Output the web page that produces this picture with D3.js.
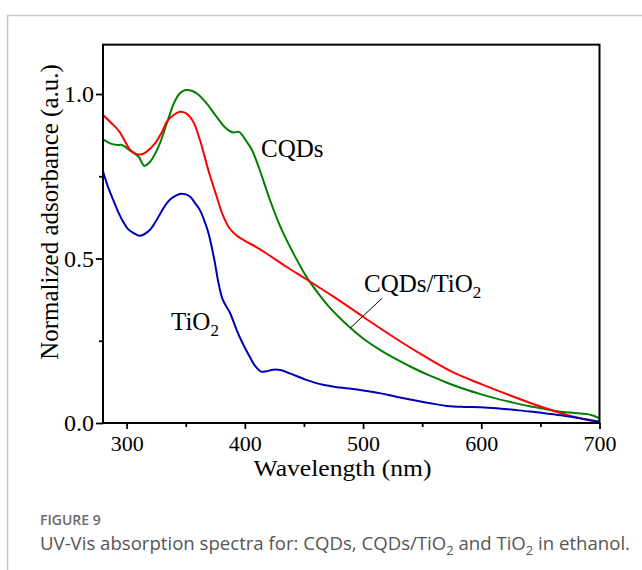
<!DOCTYPE html>
<html>
<head>
<meta charset="utf-8">
<script src="https://cdn.jsdelivr.net/npm/d3@7/dist/d3.min.js"></script>
<style>
  html, body { margin: 0; padding: 0; background: #fff; }
  svg { display: block; }
</style>
</head>
<body>
<svg id="chart" width="642" height="570"></svg>
<script>
// ---- data ----
const cqdsWl = [280,286,292,296,303,310,315,320,327,334,340,345,350,355,360,368,376,384,390,395,401,406,412,421,430,441,452,464,472,485,500,515,528,542,557,570,585,600,613,627,641,655,664,675,684,690,695,700];
const cqdsAbs = [0.862,0.850,0.845,0.845,0.828,0.810,0.782,0.795,0.840,0.911,0.972,1.002,1.012,1.010,1.000,0.970,0.931,0.896,0.883,0.885,0.858,0.830,0.775,0.680,0.597,0.516,0.445,0.385,0.350,0.303,0.257,0.221,0.194,0.168,0.143,0.124,0.104,0.087,0.074,0.062,0.051,0.042,0.036,0.032,0.029,0.027,0.022,0.014];

const hybridWl = [280,287,294,298,303,308,312,317,324,330,334,340,345,350,356,362,369,376,381,387,393,399,410,418,435,452,475,500,525,550,575,600,625,650,675,700];
const hybridAbs = [0.936,0.912,0.885,0.860,0.830,0.818,0.816,0.825,0.850,0.885,0.916,0.937,0.946,0.942,0.918,0.860,0.770,0.690,0.635,0.592,0.570,0.556,0.534,0.516,0.475,0.437,0.384,0.323,0.263,0.207,0.156,0.118,0.083,0.050,0.022,0.002];

const tio2Wl = [280,284,289,293,297,301,306,311,315,320,325,329,334,337,342,346,350,354,358,362,366,369,372,375,378,381,384,387,390,393,398,404,409,414,418,424,430,438,452,466,480,490,500,515,528,542,557,571,585,599,613,627,641,655,670,684,700];
const tio2Abs = [0.765,0.720,0.675,0.640,0.612,0.590,0.577,0.569,0.574,0.588,0.615,0.640,0.668,0.680,0.692,0.697,0.695,0.687,0.668,0.647,0.612,0.580,0.535,0.480,0.420,0.378,0.356,0.338,0.312,0.283,0.243,0.202,0.172,0.156,0.157,0.162,0.161,0.151,0.131,0.116,0.108,0.104,0.099,0.090,0.080,0.070,0.060,0.052,0.049,0.048,0.045,0.040,0.035,0.029,0.022,0.014,0.004];

const xMajorTicks = [300,400,500,600,700];
const xMinorTicks = [350,450,550,650];
const yMajorTicks = [0,0.5,1.0];
const yMinorTicks = [0.25,0.75];
const yTickLabels = ["0.0","0.5","1.0"];

const seriesNames = ["CQDs","CQDs/TiO2","TiO2"];
const seriesColors = ["#008000","#ff0000","#0000b4"];

const series = [
  {name: seriesNames[0], color: seriesColors[0], pts: cqdsWl.map((w,i)=>[w,cqdsAbs[i]])},
  {name: seriesNames[1], color: seriesColors[1], pts: hybridWl.map((w,i)=>[w,hybridAbs[i]])},
  {name: seriesNames[2], color: seriesColors[2], pts: tio2Wl.map((w,i)=>[w,tio2Abs[i]])}
];

// ---- drawing ----
const svg = d3.select("#chart");
const serif = "'Liberation Serif','Times New Roman',Times,serif";
const sans = "'Open Sans','Noto Sans',sans-serif";

// card border
svg.append("path").attr("d","M7.5,570 V15.5 H642").attr("fill","none")
  .attr("stroke","#c8c8c8").attr("stroke-width",1.5);

const L = 103, R = 599.5, B = 423, T = 44.65;
const x = d3.scaleLinear().domain([280,700]).range([L,R]);
const y = d3.scaleLinear().domain([0,1.15]).range([B,T]);

// curves
const line = d3.line().x(d=>x(d[0])).y(d=>y(d[1])).curve(d3.curveCatmullRom.alpha(0.5));
svg.append("clipPath").attr("id","clip").append("rect")
  .attr("x",L).attr("y",T).attr("width",R-L).attr("height",B-T);
svg.append("g").attr("clip-path","url(#clip)")
  .selectAll("path").data(series).join("path")
  .attr("d",d=>line(d.pts)).attr("fill","none")
  .attr("stroke",d=>d.color).attr("stroke-width",2).attr("stroke-linejoin","round");

// axes
const fmtY = d => yTickLabels[yMajorTicks.indexOf(d)];
const xAxis = svg.append("g").attr("transform",`translate(0,${B})`)
  .call(d3.axisBottom(x).tickValues(xMajorTicks).tickSize(6).tickPadding(6.5).tickFormat(d3.format("d")));
const xMinor = svg.append("g").attr("transform",`translate(0,${B})`)
  .call(d3.axisBottom(x).tickValues(xMinorTicks).tickSize(4).tickFormat(""));
const yAxis = svg.append("g").attr("transform",`translate(${L},0)`)
  .call(d3.axisLeft(y).tickValues(yMajorTicks).tickSize(7).tickPadding(2).tickFormat(fmtY));
const yMinor = svg.append("g").attr("transform",`translate(${L},0)`)
  .call(d3.axisLeft(y).tickValues(yMinorTicks).tickSize(4).tickFormat(""));
[xAxis,xMinor,yAxis,yMinor].forEach(g=>{
  g.select(".domain").remove();
  g.selectAll("line").attr("stroke","#000").attr("stroke-width",1.8);
  g.selectAll("text").attr("fill","#000").style("font-family",serif);
});
xAxis.selectAll("text").style("font-size","22px");
yAxis.selectAll("text").style("font-size","24px");

// frame
svg.append("rect").attr("x",L).attr("y",T).attr("width",R-L).attr("height",B-T)
  .attr("fill","none").attr("stroke","#000").attr("stroke-width",2);

// axis titles
svg.append("text").attr("x",342.5).attr("y",476).attr("text-anchor","middle")
  .style("font-family",serif).style("font-size","24px")
  .attr("textLength",178).attr("lengthAdjust","spacingAndGlyphs").text("Wavelength (nm)");
svg.append("text").attr("transform","translate(58,212) rotate(-90)").attr("text-anchor","middle")
  .style("font-family",serif).style("font-size","25px").text("Normalized adsorbance (a.u.)");

// series labels
function subLabel(xp, yp, main, sub){
  const t = svg.append("text").attr("x",xp).attr("y",yp)
    .style("font-family",serif).style("font-size","25px").attr("fill","#000");
  t.append("tspan").text(main);
  if (sub) t.append("tspan").attr("dy",6).style("font-size","17px").text(sub);
  return t;
}
subLabel(261,157,"CQDs");
subLabel(364,292,"CQDs/TiO","2");
subLabel(171,330,"TiO","2");
svg.append("line").attr("x1",x(489)).attr("y1",y(0.288)).attr("x2",x(516)).attr("y2",y(0.379))
  .attr("stroke","#000").attr("stroke-width",1);

// caption
svg.append("text").attr("x",40).attr("y",525).style("font-family",sans)
  .style("font-size","14px").style("font-weight","600").attr("fill","#6b6b6b").text("FIGURE 9");
const cap = svg.append("text").attr("x",40).attr("y",550).style("font-family",sans)
  .style("font-size","18.6px").attr("fill","#555");
cap.append("tspan").text("UV-Vis absorption spectra for: CQDs, CQDs/TiO");
cap.append("tspan").attr("dy",5).style("font-size","13px").text("2");
cap.append("tspan").attr("dy",-5).text(" and TiO");
cap.append("tspan").attr("dy",5).style("font-size","13px").text("2");
cap.append("tspan").attr("dy",-5).text(" in ethanol.");
</script>
</body>
</html>
